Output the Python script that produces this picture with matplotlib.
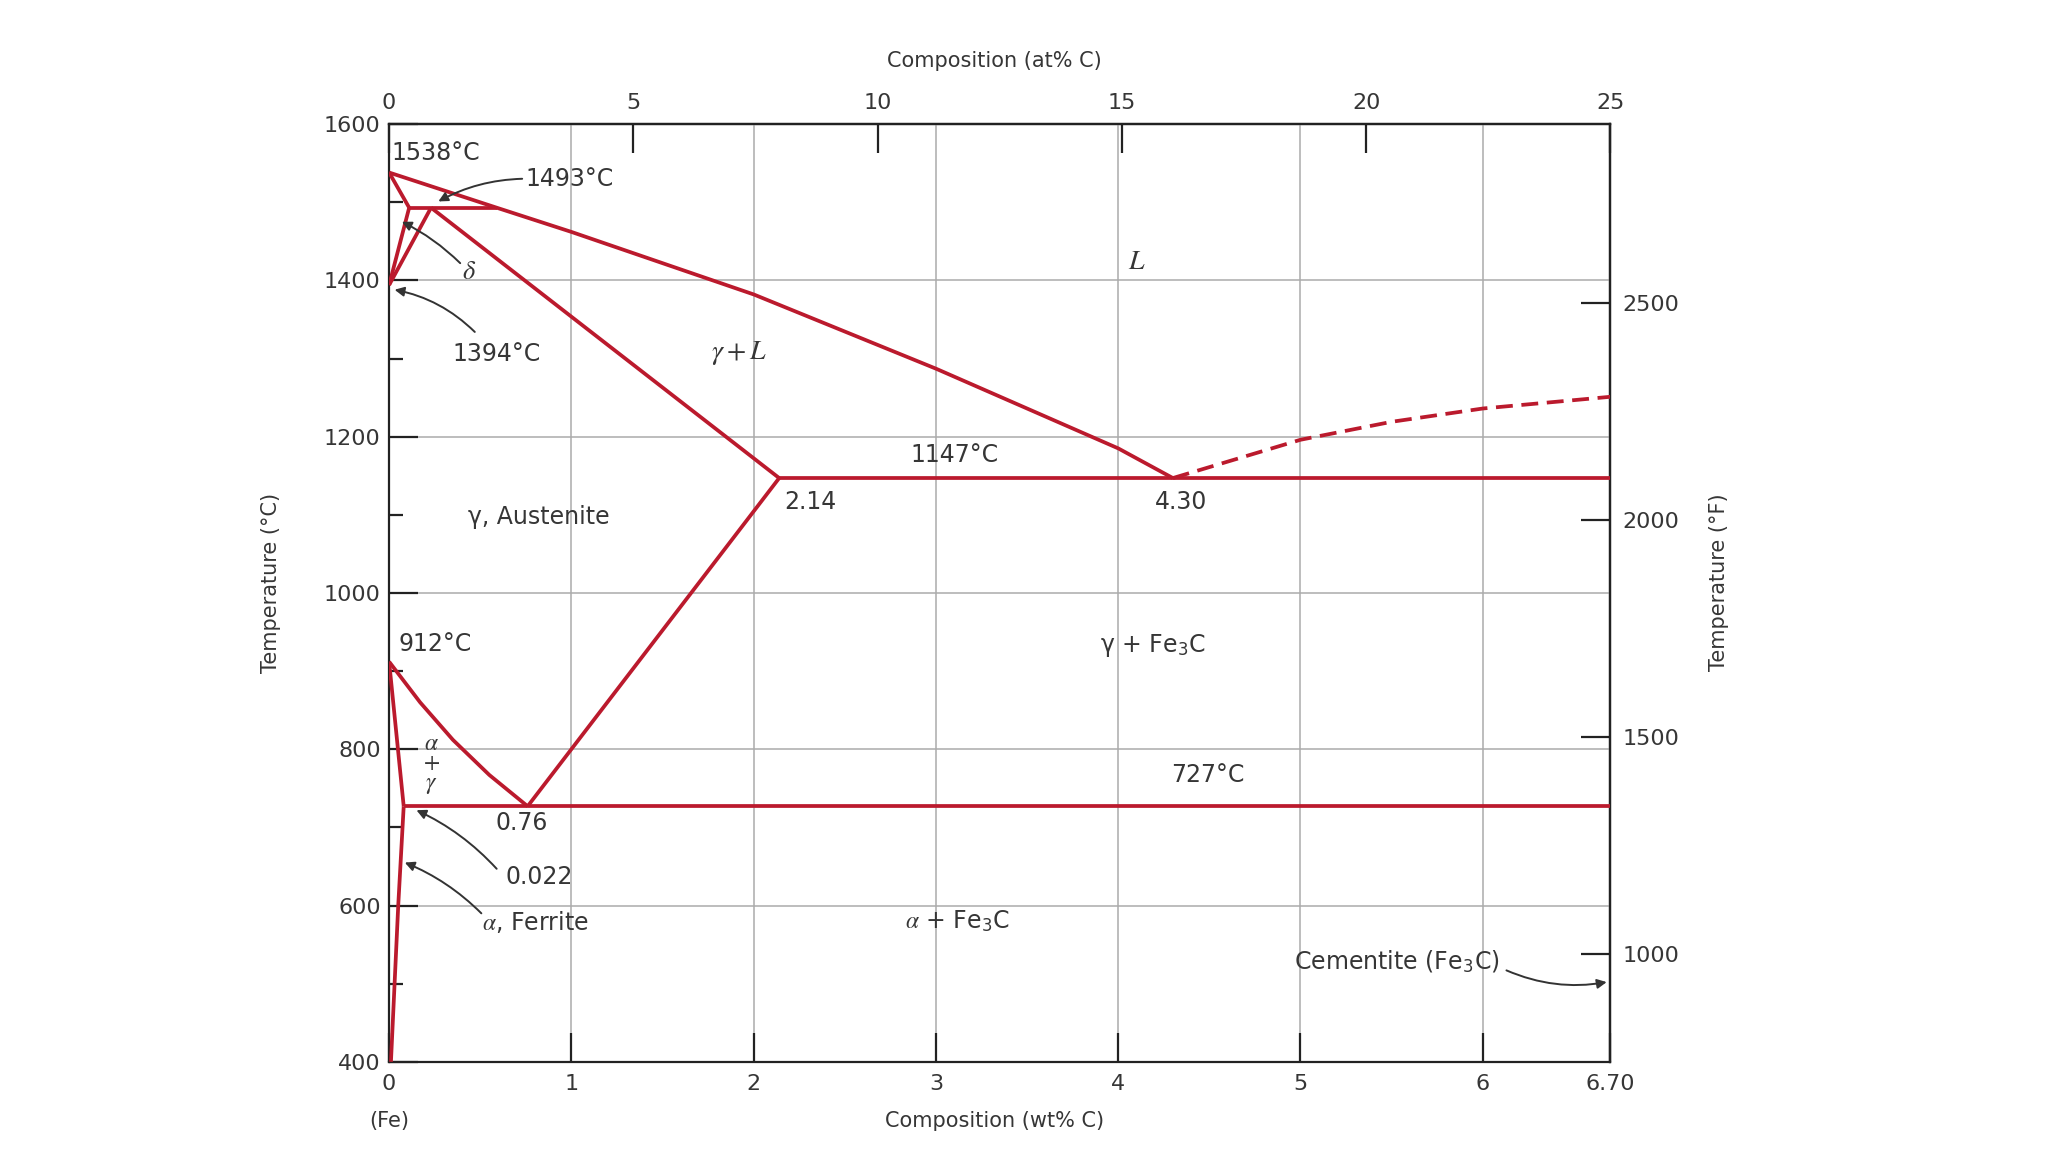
import matplotlib
matplotlib.use("Agg")
import matplotlib.pyplot as plt

plt.rcParams['font.family'] = ['DejaVu Sans']
plt.rcParams['mathtext.fontset'] = 'stix'

# Phase boundaries (wt% C, temperature in degC)
liquidus_wt = [0, 0.59, 1.0, 2.0, 3.0, 4.0, 4.30]
liquidus_T = [1538, 1493, 1462, 1382, 1287, 1185, 1147]

delta_wt = [0, 0.11, 0]
delta_T = [1538, 1493, 1394]

gamma_delta_wt = [0, 0.23]
gamma_delta_T = [1394, 1493]

peritectic_wt = [0.11, 0.59]
peritectic_T = [1493, 1493]

solidus_wt = [0.23, 2.14]
solidus_T = [1493, 1147]

eutectic_wt = [2.14, 6.70]
eutectic_T = [1147, 1147]

acm_wt = [2.14, 0.76]
acm_T = [1147, 727]

a3_wt = [0, 0.17, 0.35, 0.55, 0.76]
a3_T = [912, 860, 812, 767, 727]

alpha_gamma_wt = [0, 0.08]
alpha_gamma_T = [912, 727]

eutectoid_wt = [0.08, 6.70]
eutectoid_T = [727, 727]

alpha_solvus_wt = [0.08, 0.05, 0.03, 0.01]
alpha_solvus_T = [727, 600, 500, 400]

fe3c_liq_wt = [4.30, 5.0, 5.5, 6.0, 6.70]
fe3c_liq_T = [1147, 1196, 1219, 1236, 1251]

# axis ticks
wt_ticks = [0, 1, 2, 3, 4, 5, 6, 6.70]
wt_labels = ['0', '1', '2', '3', '4', '5', '6', '6.70']
at_ticks = [0, 5, 10, 15, 20, 25]
c_ticks = [400, 600, 800, 1000, 1200, 1400, 1600]
c_minor = [500, 700, 900, 1100, 1300, 1500]
f_ticks = [1000, 1500, 2000, 2500]

RED = '#bb1a2d'
INK = '#363636'
GRID = '#ababab'

fig = plt.figure(figsize=(20.48, 11.52), dpi=100)
ax = fig.add_axes([0.190, 0.0783, 0.5963, 0.814])

lw = 2.7
for w, t in [(liquidus_wt, liquidus_T), (delta_wt, delta_T),
             (gamma_delta_wt, gamma_delta_T), (peritectic_wt, peritectic_T),
             (solidus_wt, solidus_T), (eutectic_wt, eutectic_T),
             (acm_wt, acm_T), (a3_wt, a3_T), (alpha_gamma_wt, alpha_gamma_T),
             (eutectoid_wt, eutectoid_T), (alpha_solvus_wt, alpha_solvus_T)]:
    ax.plot(w, t, color=RED, lw=lw, solid_joinstyle='round', solid_capstyle='butt', zorder=3)

dash, = ax.plot(fe3c_liq_wt, fe3c_liq_T, color=RED, lw=lw, zorder=3)
dash.set_dashes((4.5, 2.3))

ax.set_xlim(0, 6.70)
ax.set_ylim(400, 1600)

ax.set_xticks(wt_ticks)
ax.set_xticklabels(wt_labels)
ax.set_yticks(c_ticks)
ax.set_yticks(c_minor, minor=True)
ax.grid(True, which='major', color=GRID, lw=1.1)
ax.set_axisbelow(True)

for s in ax.spines.values():
    s.set_color('#222222')
    s.set_linewidth(1.6)

ax.tick_params(which='major', direction='in', length=21, width=1.6, color='#222222',
               labelcolor=INK, labelsize=16, top=False, right=False)
ax.tick_params(axis='x', pad=9)
ax.tick_params(axis='y', pad=6)
ax.tick_params(which='minor', direction='in', length=10, width=1.6, color='#222222',
               right=False)

# secondary axes: at% C on top, degF on right
secx = ax.secondary_xaxis('top', functions=(lambda w: w * 25 / 6.70, lambda a: a * 6.70 / 25))
secx.set_xticks(at_ticks)
secx.tick_params(direction='in', length=21, width=1.6, color='#222222',
                 labelcolor=INK, labelsize=16, pad=8)
secx.spines['top'].set_linewidth(1.6)

secy = ax.secondary_yaxis('right', functions=(lambda c: c * 9 / 5 + 32, lambda f: (f - 32) * 5 / 9))
secy.set_yticks(f_ticks)
secy.tick_params(direction='in', length=21, width=1.6, color='#222222',
                 labelcolor=INK, labelsize=16, pad=9)
secy.spines['right'].set_linewidth(1.6)

# axis titles
ax.set_xlabel('Composition (wt% C)', fontsize=15, color=INK)
ax.xaxis.set_label_coords(0.496, -0.063)
ax.xaxis.label.set_va('center')
secx.set_xlabel('Composition (at% C)', fontsize=15, color=INK)
secx.xaxis.set_label_coords(0.496, 1.067, transform=ax.transAxes)
secx.xaxis.label.set_va('center')
ax.set_ylabel('Temperature (°C)', fontsize=15, color=INK)
ax.yaxis.set_label_coords(-0.097, 0.511)
ax.yaxis.label.set_va('center')
secy.set_ylabel('Temperature (°F)', fontsize=15, color=INK, rotation=90)
secy.yaxis.set_label_coords(1.0887, 0.511, transform=ax.transAxes)
secy.yaxis.label.set_va('center')
secy.yaxis.label.set_ha('center')

ax.text(0.0, -0.063, '(Fe)', transform=ax.transAxes, ha='center', va='center',
        fontsize=15, color=INK)

# region / point labels
fs = 17
txt = dict(color=INK, fontsize=fs, va='center')
ax.text(0.01, 1563, '1538°C', ha='left', **txt)
ax.text(0.75, 1530, '1493°C', ha='left', **txt)
ax.text(0.44, 1411, r'$\delta$', ha='center', color=INK, fontsize=19, va='center')
ax.text(0.35, 1306, '1394°C', ha='left', **txt)
ax.text(4.10, 1425, r'$L$', ha='center', color=INK, fontsize=20, va='center')
ax.text(1.92, 1307, r'$\gamma + L$', ha='center', color=INK, fontsize=20, va='center')
ax.text(3.10, 1176, '1147°C', ha='center', **txt)
ax.text(2.17, 1117, '2.14', ha='left', **txt)
ax.text(4.20, 1117, '4.30', ha='left', **txt)
ax.text(0.82, 1097, 'γ, Austenite', ha='center', **txt)
ax.text(0.05, 935, '912°C', ha='left', **txt)
ax.text(4.19, 933, r'γ + Fe$_\mathregular{3}$C', ha='center', **txt)
ax.text(0.23, 782, '$\\alpha$\n$+$\n$\\gamma$', ha='center', va='center', color=INK,
        fontsize=17, linespacing=0.75)
ax.text(4.49, 767, '727°C', ha='center', **txt)
ax.text(0.73, 706, '0.76', ha='center', **txt)
ax.text(0.64, 636, '0.022', ha='left', **txt)
ax.text(0.51, 579, r'$\alpha$, Ferrite', ha='left', **txt)
ax.text(3.12, 580, r'$\alpha$ + Fe$_\mathregular{3}$C', ha='center', **txt)
ax.text(6.09, 529, r'Cementite (Fe$_\mathregular{3}$C)', ha='right', **txt)

# leader arrows
arrows = [((0.73, 1530), (0.27, 1501), 0.12),
          ((0.39, 1422), (0.07, 1475), 0.08),
          ((0.47, 1334), (0.03, 1388), 0.15),
          ((0.59, 647), (0.15, 722), 0.1),
          ((0.506, 590), (0.086, 655), 0.1),
          ((6.13, 517), (6.68, 502), 0.15)]
for tail, head, rad in arrows:
    ax.annotate('', xy=head, xytext=tail,
                arrowprops=dict(arrowstyle='-|>', color='#333333', lw=1.4,
                                mutation_scale=14, shrinkA=0, shrinkB=0,
                                connectionstyle=f'arc3,rad={rad}'))

fig.savefig('out.png', dpi=100, facecolor='white')
